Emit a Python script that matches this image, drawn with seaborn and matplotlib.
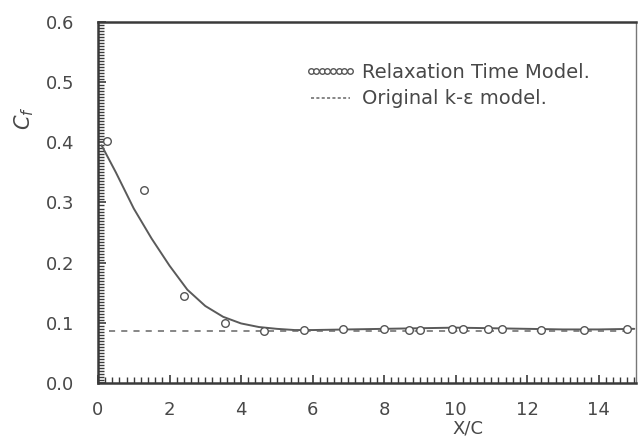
import matplotlib
matplotlib.use("Agg")
import matplotlib.pyplot as plt
import seaborn as sns
import numpy as np
import pandas as pd
from matplotlib.ticker import MultipleLocator
from matplotlib.lines import Line2D

# --- data ---
curve_x = [0.1, 0.5, 1.0, 1.5, 2.0, 2.5, 3.0, 3.5, 4.0, 4.5, 5.0, 5.5, 6.0, 7.0, 8.0, 9.0, 10.0, 11.0, 12.0, 13.0, 14.0, 15.0]
curve_y = [0.395, 0.35, 0.29, 0.24, 0.195, 0.155, 0.128, 0.11, 0.099, 0.093, 0.090, 0.088, 0.088, 0.089, 0.090, 0.091, 0.092, 0.091, 0.090, 0.089, 0.089, 0.090]

relax_x = [0.25, 1.3, 2.4, 3.55, 4.65, 5.75, 6.85, 8.0, 8.7, 9.0, 9.9, 10.2, 10.9, 11.3, 12.4, 13.6, 14.8]
relax_y = [0.402, 0.32, 0.145, 0.10, 0.087, 0.088, 0.090, 0.090, 0.088, 0.088, 0.090, 0.090, 0.089, 0.089, 0.088, 0.088, 0.090]

orig_x = [0.3, 15.0]
orig_y = [0.086, 0.086]

xticks = [0, 2, 4, 6, 8, 10, 12, 14]
yticks = [0.0, 0.1, 0.2, 0.3, 0.4, 0.5, 0.6]
ytick_labels = ["0.0", "0.1", "0.2", "0.3", "0.4", "0.5", "0.6"]

sns.set_style("ticks")
plt.rcParams["font.family"] = ["DejaVu Sans"]

fig = plt.figure(figsize=(6.38, 4.38), dpi=100)
ax = fig.add_axes([0.1536, 0.1256, 0.8434, 0.8242])

ink = "#3a3a3a"
txt = "#484848"

sns.lineplot(x=curve_x, y=curve_y, ax=ax, color="#5a5a5a", lw=1.4, legend=False)
sns.lineplot(x=orig_x, y=orig_y, ax=ax, color="#666666", lw=1.1, linestyle=(0, (4, 4)),
             legend=False)
sns.scatterplot(x=relax_x, y=relax_y, ax=ax, marker="o", s=30, facecolor="white",
                edgecolor="#555555", linewidth=1.0, zorder=5, legend=False)

ax.set_xlim(0, 15.05)
ax.set_ylim(0, 0.6)
ax.set_xticks(xticks)
ax.set_yticks(yticks)
ax.set_yticklabels(ytick_labels)
ax.xaxis.set_minor_locator(MultipleLocator(0.2))
ax.yaxis.set_minor_locator(MultipleLocator(0.005))
ax.tick_params(axis="both", which="major", direction="in", length=6, width=1.2,
               colors=ink, labelsize=13, labelcolor=txt)
ax.tick_params(axis="x", which="major", pad=13)
ax.tick_params(axis="y", which="major", pad=17)
ax.tick_params(axis="both", which="minor", direction="in", length=4, width=1.0, colors=ink)
ax.tick_params(top=False, right=False, which="both")

for side in ["left", "bottom", "top"]:
    ax.spines[side].set_color(ink)
    ax.spines[side].set_linewidth(1.8)
ax.spines["right"].set_color("#777777")
ax.spines["right"].set_linewidth(1.0)

ax.set_xlabel("X/C", fontsize=13, color=txt)
ax.xaxis.set_label_coords(0.688, -0.1)
ax.set_ylabel("$C_f$", fontsize=15, color=txt)
ax.yaxis.set_label_coords(-0.115, 0.734)

h1 = Line2D([], [], linestyle="none", marker="o", markersize=4, markerfacecolor="white",
            markeredgecolor="#555555", markeredgewidth=1.0)
h2 = Line2D([], [], color="#666666", lw=1.1, linestyle=(0, (2, 1.5)))
leg = ax.legend([h1, h2], ["Relaxation Time Model.", "Original k-\u03b5 model."],
                loc="upper left", bbox_to_anchor=(0.352, 0.935), frameon=False,
                numpoints=8, handlelength=2.6, handletextpad=0.35, labelspacing=0.38,
                prop={"size": 14, "family": "DejaVu Sans"})
for t in leg.get_texts():
    t.set_color(txt)

fig.savefig("out.png", dpi=100)
